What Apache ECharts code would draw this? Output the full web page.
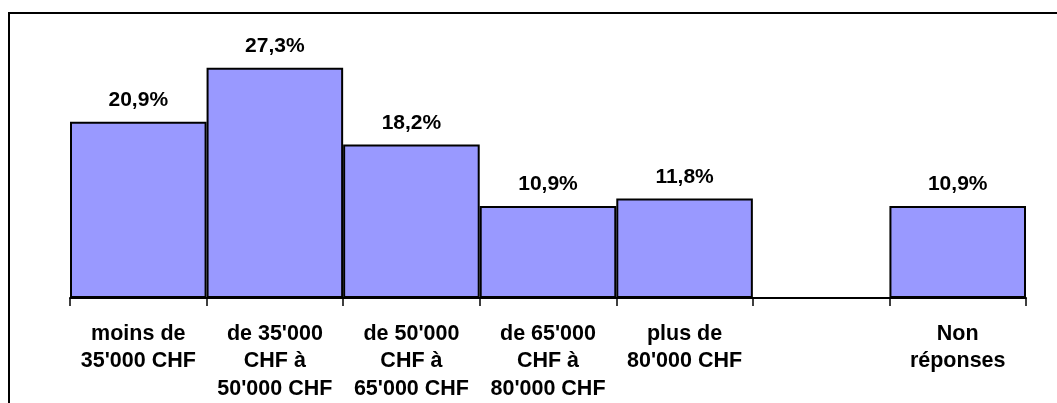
<!DOCTYPE html>
<html>
<head>
<meta charset="utf-8">
<script src="https://cdn.jsdelivr.net/npm/echarts@6/dist/echarts.min.js"></script>
<style>
    html, body { margin: 0; padding: 0; background: #fff; }
    #chart { width: 1057px; height: 403px; }
</style>
</head>
<body>
<div id="chart"></div>
<script>
var categories = ["moins de\n35'000 CHF", "de 35'000\nCHF à\n50'000 CHF", "de 50'000\nCHF à\n65'000 CHF",
    "de 65'000\nCHF à\n80'000 CHF", "plus de\n80'000 CHF", "", "Non\nréponses"];
var percentValues = [20.9, 27.3, 18.2, 10.9, 11.8, null, 10.9];

var fontName = 'Liberation Sans, Arial, sans-serif';

var option = {
    animation: false,
    backgroundColor: '#fff',
    // cadre autour du graphique
    graphic: [{
        type: 'rect',
        shape: { x: 9, y: 13, width: 1200, height: 500 },
        style: { fill: 'none', stroke: '#000', lineWidth: 2 }
    }],
    grid: {
        left: 70,
        right: 31,
        top: 45,
        bottom: 105
    },
    xAxis: {
        type: 'category',
        data: categories,
        axisLine: { lineStyle: { color: '#000', width: 2 } },
        axisTick: { show: true, length: 8, lineStyle: { color: '#000', width: 1.5 } },
        axisLabel: {
            interval: 0,
            margin: 22,
            color: '#000',
            fontFamily: fontName,
            fontWeight: 'bold',
            fontSize: 21.5,
            lineHeight: 27.5,
            align: 'center'
        }
    },
    yAxis: {
        type: 'value',
        min: 0,
        max: 30,
        show: false
    },
    series: [{
        type: 'bar',
        data: percentValues,
        barCategoryGap: 0,
        barGap: 0,
        itemStyle: {
            color: '#9999FF',
            borderColor: '#000',
            borderWidth: 2
        },
        label: {
            show: true,
            position: 'top',
            distance: 11,
            color: '#000',
            fontFamily: fontName,
            fontWeight: 'bold',
            fontSize: 21,
            formatter: function (p) {
                return p.value == null ? '' : p.value.toFixed(1).replace('.', ',') + '%';
            }
        }
    }]
};

var myChart = echarts.init(document.getElementById('chart'));
myChart.setOption(option);
</script>
</body>
</html>
